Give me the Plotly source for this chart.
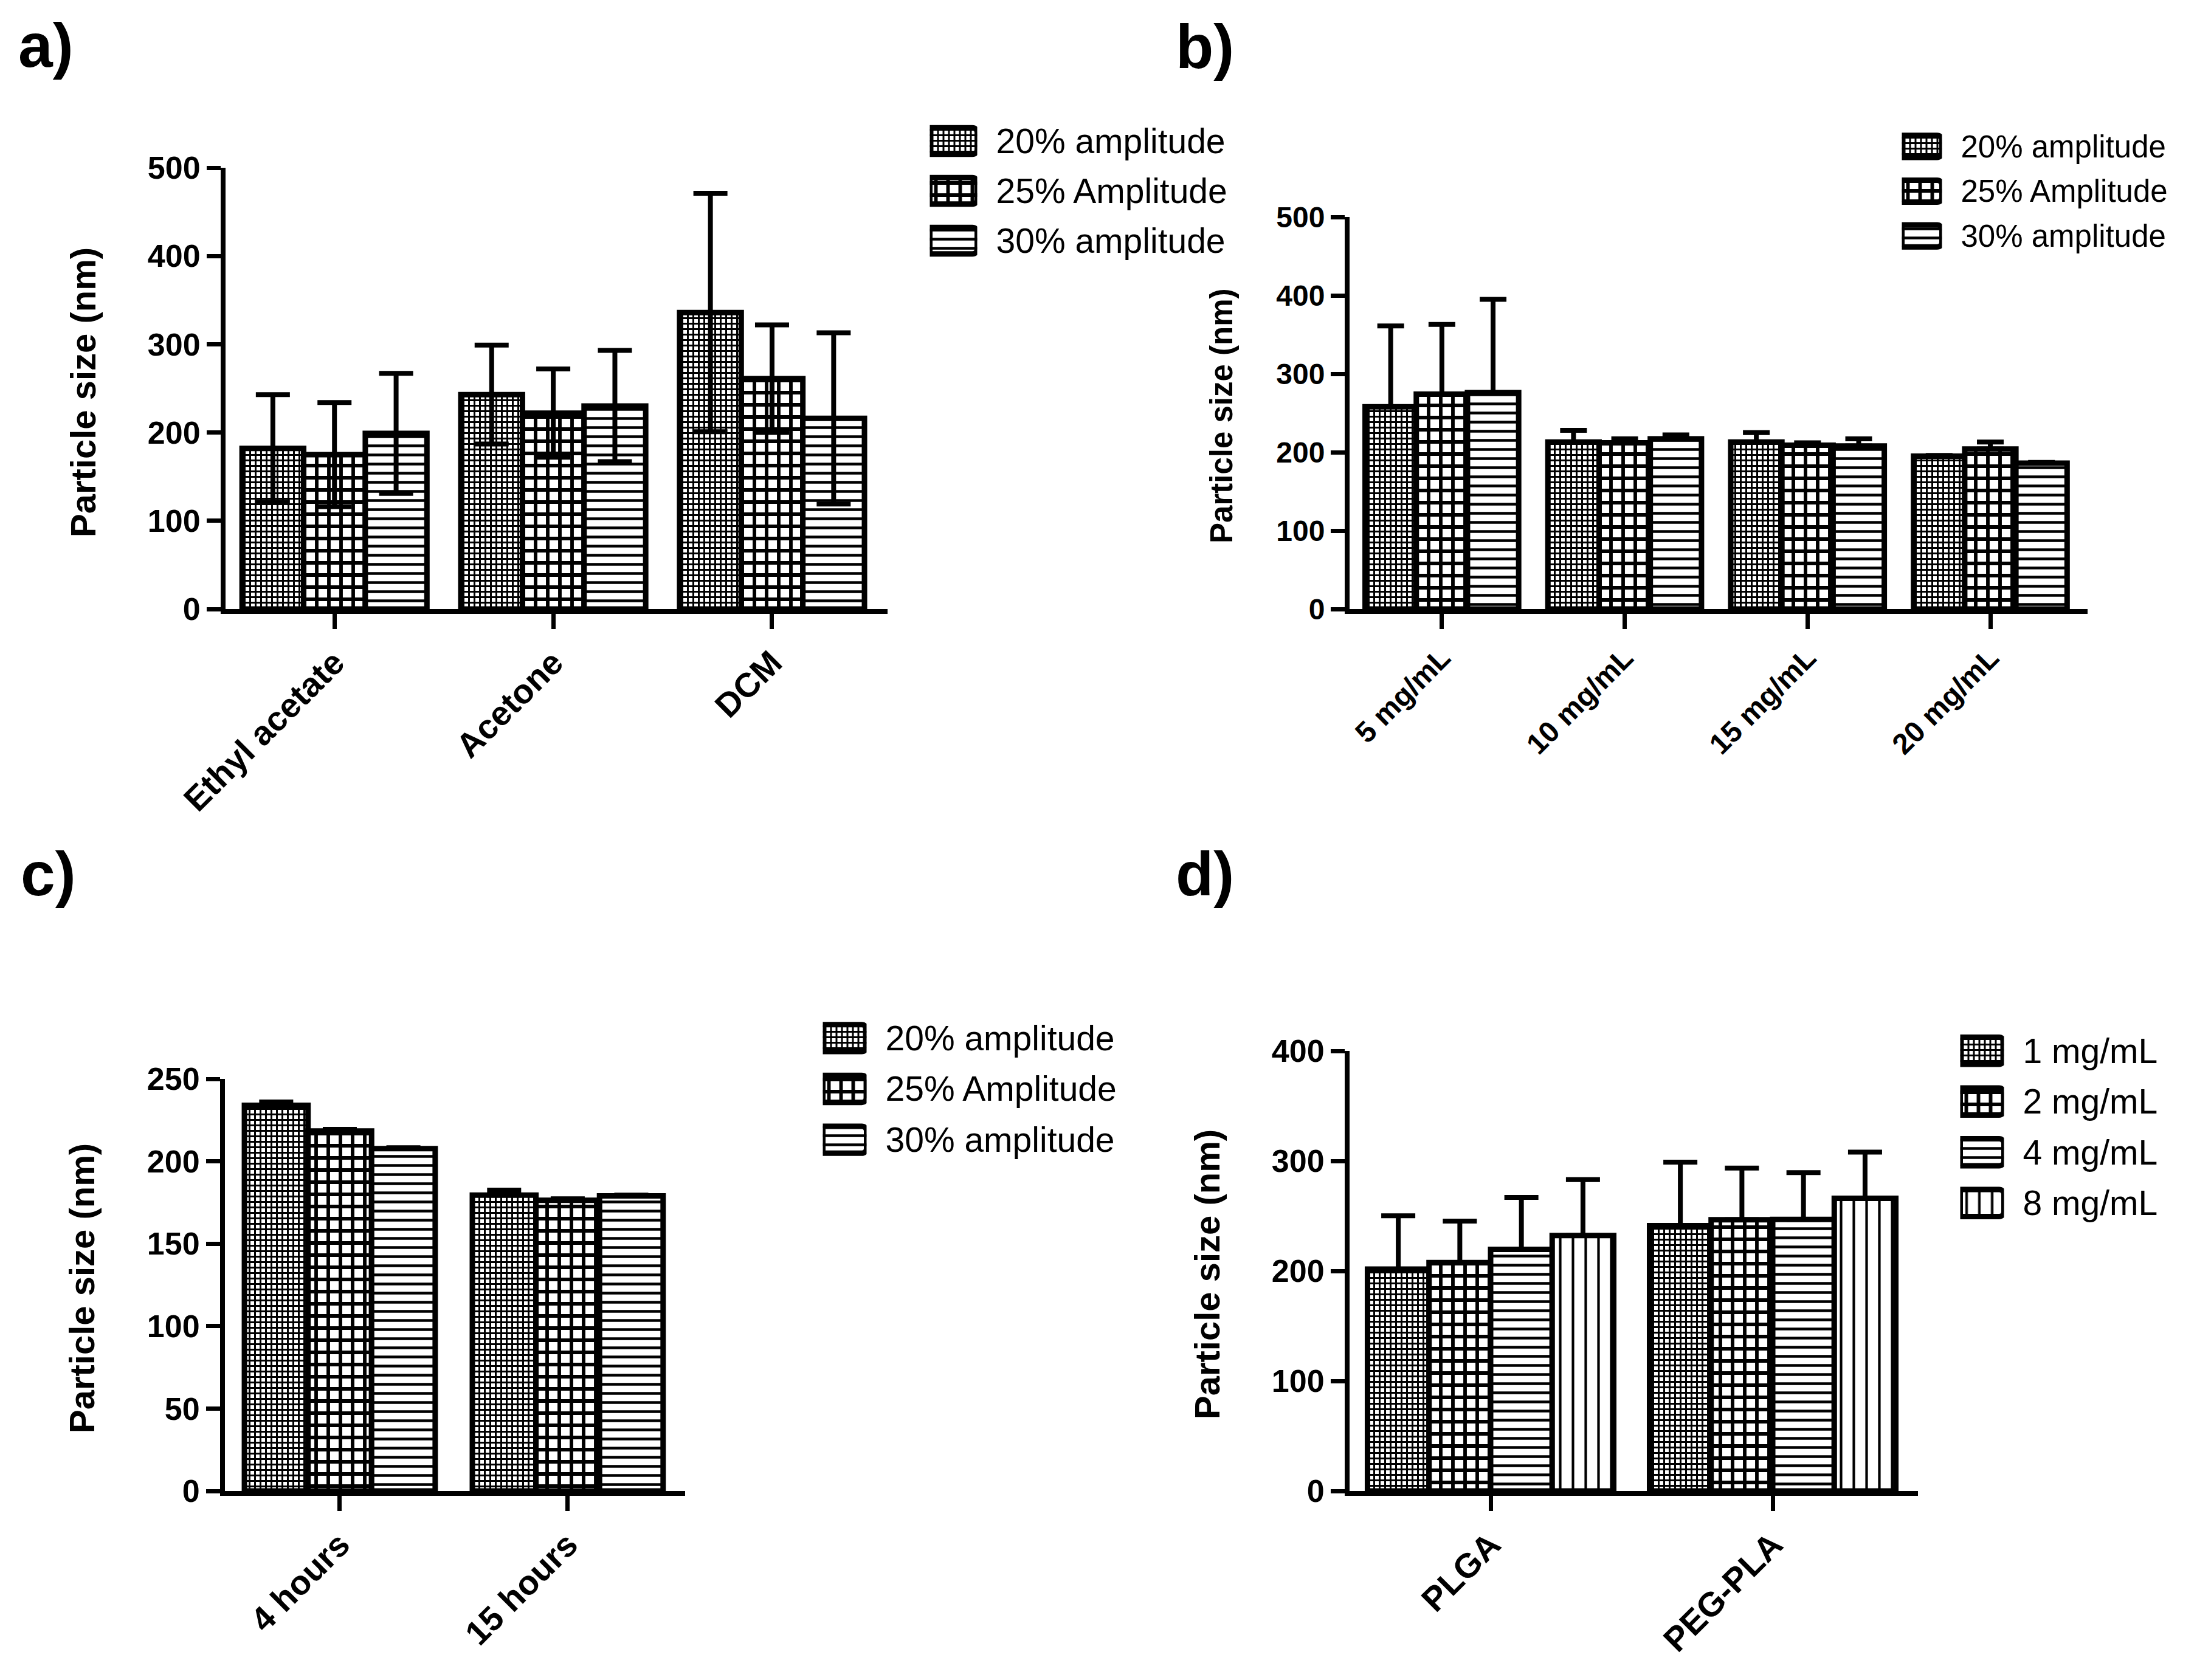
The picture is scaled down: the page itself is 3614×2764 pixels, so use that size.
import plotly.graph_objects as go

W, H = 3614, 2764
OFF = 8  # the page body adds an 8 px margin around the figure
FONT = "Arial, Liberation Sans, sans-serif"

# ---- data -------------------------------------------------------------
amp_names = ["20% amplitude", "25% Amplitude", "30% amplitude"]
conc_names = ["1 mg/mL", "2 mg/mL", "4 mg/mL", "8 mg/mL"]

# a) solvent
solvents = ["Ethyl acetate", "Acetone", "DCM"]
a_20 = [182, 243, 336]
a_20_sd = [61, 56, 135]
a_25 = [175, 222, 261]
a_25_sd = [59, 50, 61]
a_30 = [199, 230, 216]
a_30_sd = [68, 63, 97]

# b) polymer concentration
concs = ["5 mg/mL", "10 mg/mL", "15 mg/mL", "20 mg/mL"]
b_20 = [258, 213, 213, 195]
b_20_sd = [103, 15, 12, 1]
b_25 = [274, 212, 209, 204]
b_25_sd = [89, 5, 3, 9]
b_30 = [276, 217, 208, 186]
b_30_sd = [119, 5, 9, 1]

# c) sonication time
times = ["4 hours", "15 hours"]
c_20 = [234, 179.5]
c_20_sd = [2, 3]
c_25 = [218.4, 176.3]
c_25_sd = [1, 1]
c_30 = [207.7, 179]
c_30_sd = [0.5, 0.5]

# d) polymer type
polymers = ["PLGA", "PEG-PLA"]
d_1 = [201.6, 241.1]
d_1_sd = [48.5, 57.8]
d_2 = [207.6, 246.5]
d_2_sd = [37.7, 47]
d_4 = [219.6, 246.8]
d_4_sd = [47.3, 42.5]
d_8 = [232.2, 266]
d_8_sd = [50.8, 42]

# ---- fill patterns ----------------------------------------------------
fine = dict(shape="+", size=9, solidity=0.55)
coarse = dict(shape="+", size=20, solidity=0.5)
hlines = dict(shape="-", size=15, solidity=0.3)
vlines = dict(shape="|", size=21, solidity=0.2)


def fx(p):
    return (p - OFF) / W


def fy(p):
    return 1 - (p - OFF) / H


panels = [
    dict(cats=solvents, series=[(a_20, a_20_sd, fine), (a_25, a_25_sd, coarse), (a_30, a_30_sd, hlines)],
         names=amp_names, xpx=(371, 1460), ypx=(1002, 276), xr=[-0.498, 2.528], yr=[0, 500], dtick=100,
         gap=0.155, sym=True, tick=52, cat=56, title=58, leg=57, cap=28, tpos=(136, 645),
         lbox=(1525, 1612), lrows=(191, 437), lh=0.53, letter="a)", lpos=(28, 75)),
    dict(cats=concs, series=[(b_20, b_20_sd, fine), (b_25, b_25_sd, coarse), (b_30, b_30_sd, hlines)],
         names=amp_names, xpx=(2220, 3434), ypx=(1002, 357), xr=[-0.505, 3.532], yr=[0, 500], dtick=100,
         gap=0.16, sym=False, tick=48, cat=48, title=51, leg=51, cap=22, tpos=(2009, 685),
         lbox=(3124, 3199), lrows=(204, 425), lh=0.49, letter="b)", lpos=(1932, 77)),
    dict(cats=times, series=[(c_20, c_20_sd, fine), (c_25, c_25_sd, coarse), (c_30, c_30_sd, hlines)],
         names=amp_names, xpx=(370, 1127), ypx=(2453, 1775), xr=[-0.504, 1.515], yr=[0, 250], dtick=50,
         gap=0.163, sym=False, tick=52, cat=56, title=58, leg=57, cap=28, tpos=(134, 2119),
         lbox=(1349, 1430), lrows=(1666, 1917), lh=0.53, letter="c)", lpos=(32, 1438)),
    dict(cats=polymers, series=[(d_1, d_1_sd, fine), (d_2, d_2_sd, coarse), (d_4, d_4_sd, hlines), (d_8, d_8_sd, vlines)],
         names=conc_names, xpx=(2220, 3155), ypx=(2453, 1729), xr=[-0.5, 1.515], yr=[0, 400], dtick=100,
         gap=0.127, sym=False, tick=52, cat=56, title=58, leg=57, cap=28, tpos=(1985, 2097),
         lbox=(3220, 3301), lrows=(1687, 2021), lh=0.53, letter="d)", lpos=(1932, 1438)),
]

fig = go.Figure()
layout = dict(
    template="none",
    width=W, height=H, margin=dict(l=0, r=0, t=0, b=0, pad=0, autoexpand=False),
    paper_bgcolor="white", plot_bgcolor="white",
    barmode="group", bargap=0.15, showlegend=False,
    font=dict(family=FONT, color="black"),
)
annotations = []

for i, p in enumerate(panels):
    k = i + 1
    xa, ya = f"x{k}", f"y{k}"
    n = len(p["series"])
    bw = (1 - p["gap"]) / n
    for j, (vals, sds, pat) in enumerate(p["series"]):
        err = dict(type="data", array=sds, color="black", thickness=8, width=p["cap"], visible=True)
        if not p["sym"]:
            err.update(symmetric=False, arrayminus=[0] * len(sds))
        fig.add_trace(go.Bar(
            x=p["cats"], y=vals, xaxis=xa, yaxis=ya, name=p["names"][j],
            width=bw, offset=-(1 - p["gap"]) / 2 + j * bw,
            marker=dict(color="black", line=dict(color="black", width=9),
                        pattern=dict(fillmode="replace", bgcolor="white", fgcolor="black", **pat)),
            error_y=err,
        ))

    x0, x1 = p["xpx"]
    yb, yt = p["ypx"]
    layout[f"xaxis{k}"] = dict(
        domain=[fx(x0), fx(x1)], anchor=ya, type="category", range=p["xr"], automargin=False,
        showline=True, linewidth=8, linecolor="black", ticks="outside", ticklen=25, tickwidth=7,
        tickcolor="black", tickangle=-45, showgrid=False, zeroline=False,
        tickfont=dict(family=FONT, size=p["cat"], color="black", weight="bold"),
    )
    layout[f"yaxis{k}"] = dict(
        domain=[fy(yb), fy(yt)], anchor=xa, range=p["yr"], dtick=p["dtick"], tick0=0, automargin=False,
        showline=True, linewidth=8, linecolor="black", ticks="outside", ticklen=23, tickwidth=7,
        tickcolor="black", showgrid=False, zeroline=False,
        tickfont=dict(family=FONT, size=p["tick"], color="black", weight="bold"),
    )
    annotations.append(dict(
        text="Particle size (nm)", textangle=-90, xref="paper", yref="paper",
        x=fx(p["tpos"][0]), y=fy(p["tpos"][1]), xanchor="center", yanchor="middle", showarrow=False,
        font=dict(family=FONT, size=p["title"], color="black", weight="bold"),
    ))
    annotations.append(dict(
        text=p["letter"], xref="paper", yref="paper", x=fx(p["lpos"][0]), y=fy(p["lpos"][1]),
        xanchor="left", yanchor="middle", showarrow=False,
        font=dict(family=FONT, size=102, color="black", weight="bold"),
    ))

    # legend built from swatch bars on their own small axes
    lk = k + 4
    lx0, lx1 = p["lbox"]
    r0, r1 = p["lrows"]
    pats = [s[2] for s in p["series"]]
    fig.add_trace(go.Bar(
        x=[1] * n, y=p["names"], orientation="h", xaxis=f"x{lk}", yaxis=f"y{lk}",
        width=p["lh"],
        marker=dict(color="black", line=dict(color="black", width=9), cornerradius=8,
                    pattern=dict(fillmode="replace", bgcolor="white", fgcolor="black",
                                 shape=[q["shape"] for q in pats], size=[q["size"] for q in pats],
                                 solidity=[q["solidity"] for q in pats])),
        hoverinfo="skip",
    ))
    layout[f"xaxis{lk}"] = dict(domain=[fx(lx0 + 4.5), fx(lx1 - 4.5)], anchor=f"y{lk}", range=[0, 1],
                                visible=False, fixedrange=True, automargin=False)
    layout[f"yaxis{lk}"] = dict(domain=[fy(r1), fy(r0)], anchor=f"x{lk}", type="category",
                                autorange="reversed", side="right", showline=False, showgrid=False,
                                zeroline=False, ticks="", ticklabelstandoff=30, automargin=False,
                                tickfont=dict(family=FONT, size=p["leg"], color="black"))

layout["annotations"] = annotations
fig.update_layout(**layout)
fig.write_html("out.html")
